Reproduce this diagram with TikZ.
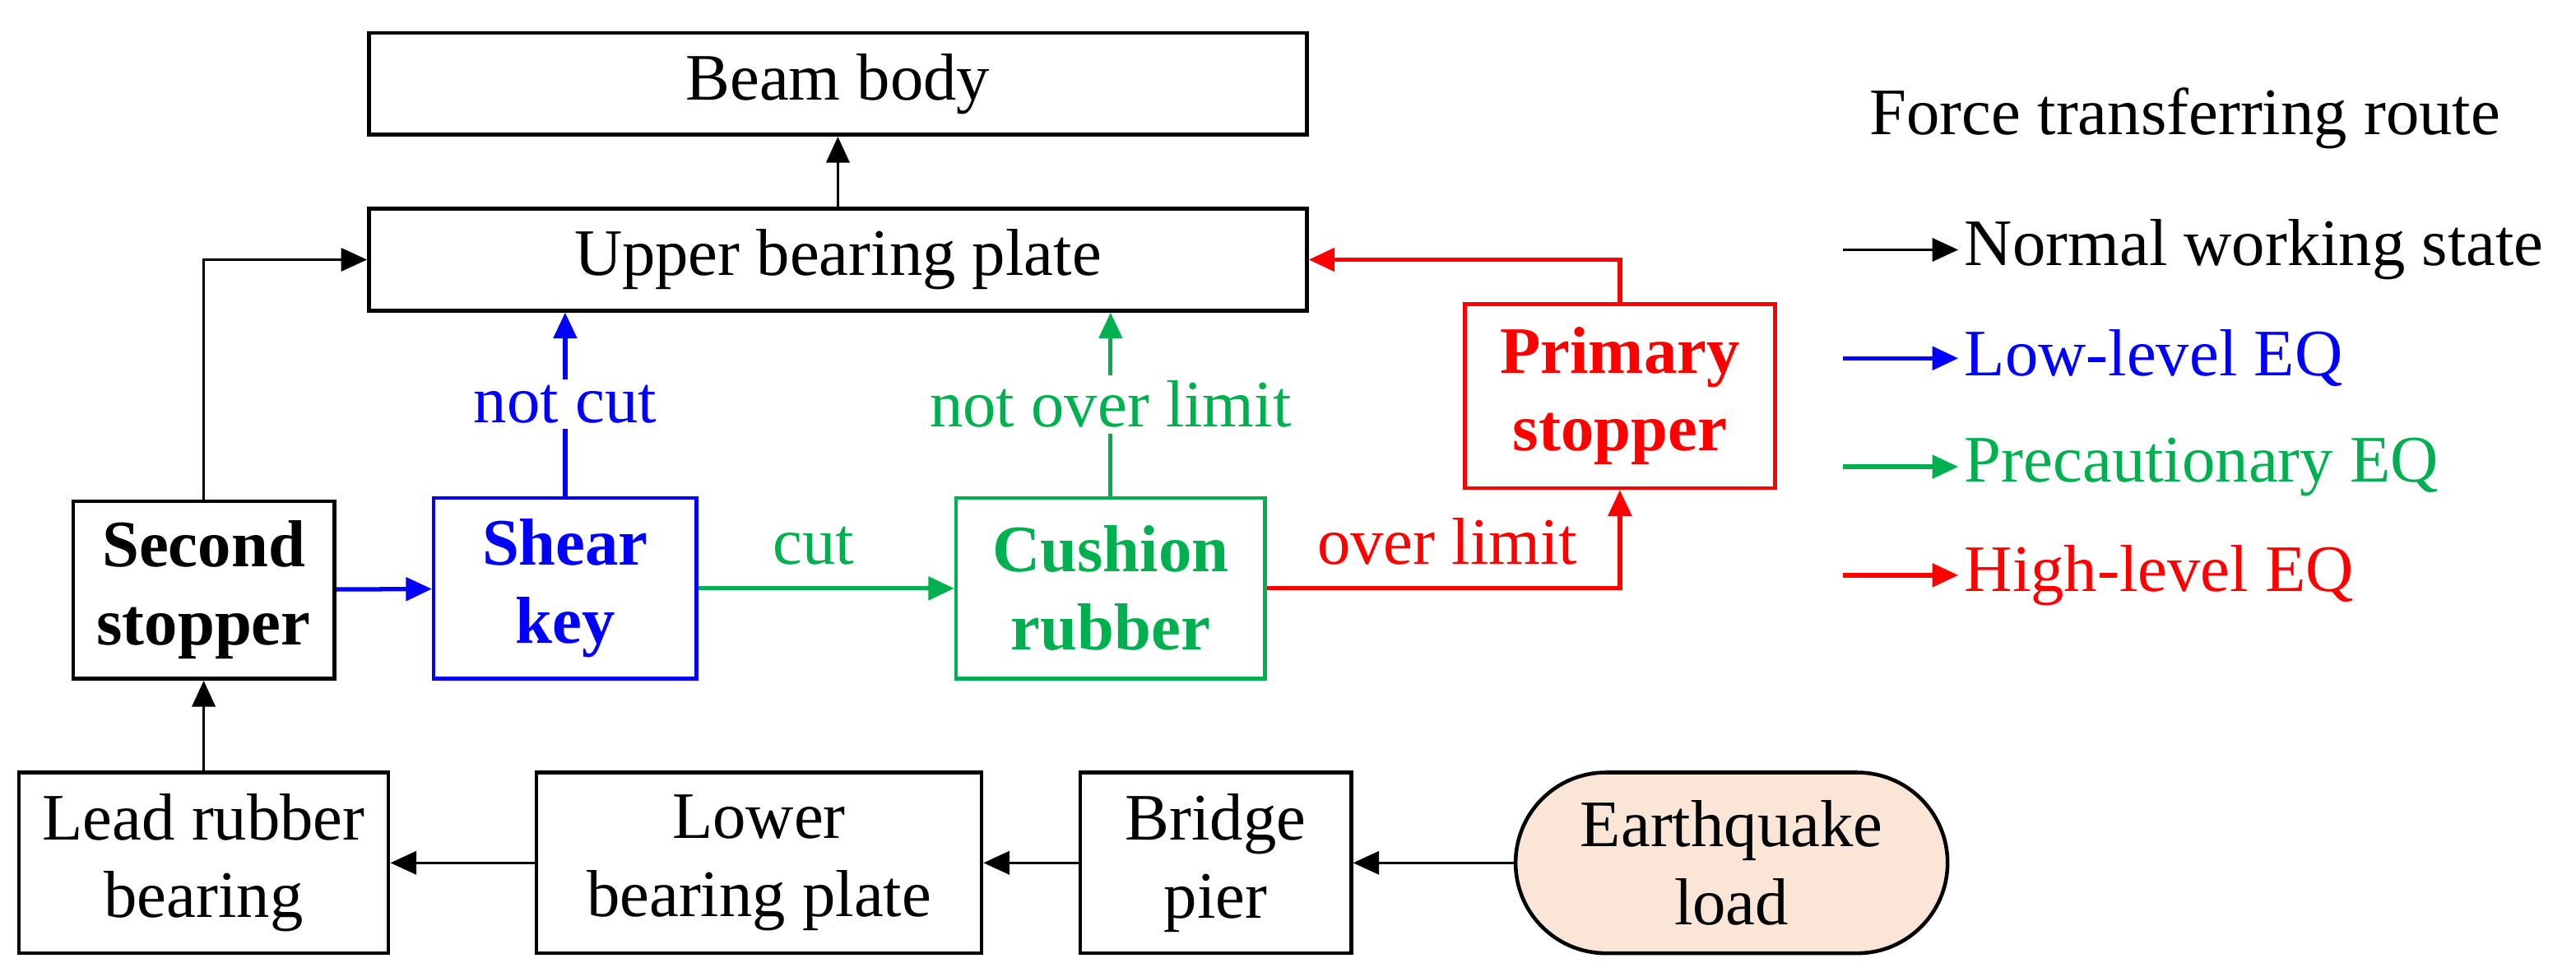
\documentclass[tikz,border=0pt]{standalone}
\usepackage{fontspec}
\setmainfont{Liberation Serif}
\usetikzlibrary{arrows.meta}
\definecolor{cb}{HTML}{0000FF}
\definecolor{cg}{HTML}{00B050}
\definecolor{cr}{HTML}{FF0000}
\definecolor{peach}{HTML}{FBE5D6}
\begin{document}
\begin{tikzpicture}[x=0.02cm,y=-0.02cm,
  every node/.style={font=\fontsize{23}{27}\selectfont},
  box/.style={draw,line width=1.3pt,inner sep=0pt,align=center},
  arr/.style={line width=1pt,-{Triangle[length=9pt,width=8pt]}},
  carr/.style={line width=1.5pt,-{Triangle[length=9pt,width=8pt]}},
  lbl/.style={fill=white,inner sep=2pt}]
\useasboundingbox (0,0) rectangle (1568,594);
\node[box,minimum width=11.42cm,minimum height=1.24cm] (beam) at (510,51) {Beam body};
\node[box,minimum width=11.42cm,minimum height=1.24cm] (upper) at (510,158) {Upper bearing plate};
\node[box,minimum width=3.18cm,minimum height=2.16cm,font=\fontsize{23}{27}\selectfont\bfseries] (second) at (124,359) {Second\\stopper};
\node[box,draw=cb,text=cb,minimum width=3.2cm,minimum height=2.2cm,font=\fontsize{23}{27}\selectfont\bfseries] (shear) at (344,358) {Shear\\key};
\node[box,draw=cg,text=cg,minimum width=3.76cm,minimum height=2.2cm,font=\fontsize{23}{27}\selectfont\bfseries] (cushion) at (676,358) {Cushion\\rubber};
\node[box,draw=cr,text=cr,minimum width=3.78cm,minimum height=2.24cm,font=\fontsize{23}{27}\selectfont\bfseries] (primary) at (986,241) {Primary\\stopper};
\node[box,minimum width=4.5cm,minimum height=2.2cm] (lead) at (124,525) {Lead rubber\\bearing};
\node[box,minimum width=5.42cm,minimum height=2.2cm] (lower) at (462,525) {Lower\\bearing plate};
\node[box,minimum width=3.3cm,minimum height=2.2cm] (pier) at (740,525) {Bridge\\pier};
\node[box,fill=peach,rounded corners=1.1cm,minimum width=5.26cm,minimum height=2.2cm] (quake) at (1054,525) {Earthquake\\load};

\draw[arr] (upper) -- (beam);
\draw[arr] (second.north) |- (upper.west);
\draw[arr] (lead) -- (second);
\draw[arr] (lower) -- (lead);
\draw[arr] (pier) -- (lower);
\draw[arr] (quake) -- (pier);
\draw[carr,cb] (second) -- (shear);
\draw[carr,cb] (shear.north) -- (shear.north |- upper.south) node[pos=0.5,lbl,text=cb] {not cut};
\draw[carr,cg] (shear) -- (cushion) node[pos=0.45,above=4pt,text=cg] {cut};
\draw[carr,cg] (cushion.north) -- (cushion.north |- upper.south) node[pos=0.5,lbl,text=cg] {not over limit};
\draw[carr,cr] (cushion.east) -| (primary.south) node[pos=0.5,above=4pt,xshift=-2.1cm,text=cr] {over limit};
\draw[carr,cr] (primary.north) |- (upper.east);

\node (title) at (1330,72) {Force transferring route};
\coordinate (a1) at (1122,152); \coordinate (b1) at (1192,152);
\coordinate (a2) at (1122,218); \coordinate (b2) at (1192,218);
\coordinate (a3) at (1122,284); \coordinate (b3) at (1192,284);
\coordinate (a4) at (1122,350); \coordinate (b4) at (1192,350);
\draw[arr] (a1) -- (b1); \node[anchor=west,inner sep=2pt] (l1) at (b1) {Normal working state};
\draw[carr,cb] (a2) -- (b2); \node[anchor=west,inner sep=2pt,text=cb] (l2) at (b2) {Low-level EQ};
\draw[carr,cg] (a3) -- (b3); \node[anchor=west,inner sep=2pt,text=cg] (l3) at (b3) {Precautionary EQ};
\draw[carr,cr] (a4) -- (b4); \node[anchor=west,inner sep=2pt,text=cr] (l4) at (b4) {High-level EQ};
\end{tikzpicture}
\end{document}
